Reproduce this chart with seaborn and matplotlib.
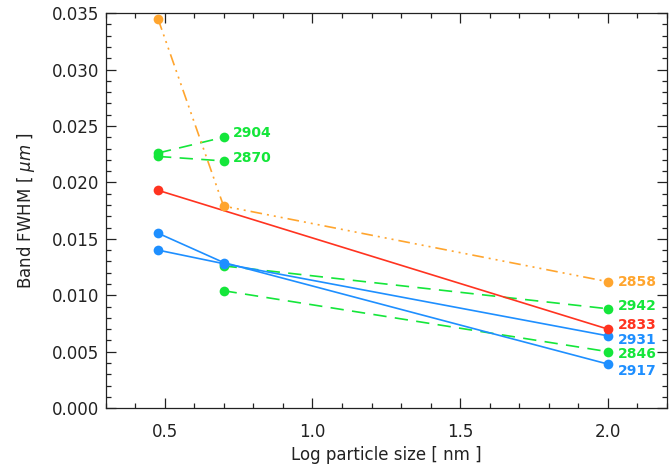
import numpy as np
import pandas as pd
import matplotlib
matplotlib.use("Agg")
import matplotlib.pyplot as plt
from matplotlib.ticker import MultipleLocator
import seaborn as sns

# ---- data ----
log_size = [0.477, 0.699, 2.0]
band_names = ["2858", "2904", "2870", "2833", "2917", "2931", "2942", "2846"]
x_2858 = [0.477, 0.699, 2.0]; y_2858 = [0.0345, 0.0179, 0.0112]
x_2904 = [0.477, 0.699];      y_2904 = [0.0226, 0.0240]
x_2870 = [0.477, 0.699];      y_2870 = [0.0223, 0.0219]
x_2833 = [0.477, 2.0];        y_2833 = [0.0193, 0.0070]
x_2917 = [0.477, 0.699, 2.0]; y_2917 = [0.0155, 0.0129, 0.0039]
x_2931 = [0.477, 0.699, 2.0]; y_2931 = [0.0140, 0.0128, 0.0064]
x_2942 = [0.699, 2.0];        y_2942 = [0.0126, 0.0088]
x_2846 = [0.699, 2.0];        y_2846 = [0.0104, 0.0050]

series = {
    "2858": (x_2858, y_2858), "2904": (x_2904, y_2904), "2870": (x_2870, y_2870),
    "2833": (x_2833, y_2833), "2917": (x_2917, y_2917), "2931": (x_2931, y_2931),
    "2942": (x_2942, y_2942), "2846": (x_2846, y_2846),
}
rows = []
for name, (xs, ys) in series.items():
    for i, (xv, yv) in enumerate(zip(xs, ys)):
        rows.append({"band": name, "order": i, "x": xv, "y": yv})
df = pd.DataFrame(rows)

# ---- style ----
ORANGE = "#ffa52e"
GREEN = "#14e63a"
RED = "#ff3320"
BLUE = "#1e8fff"
dashdot3 = (0, (7, 3, 1.2, 3, 1.2, 3, 1.2, 3))
dashed = (0, (8, 5))
styles = {
    "2858": (ORANGE, dashdot3),
    "2904": (GREEN, dashed), "2870": (GREEN, dashed),
    "2833": (RED, "-"),
    "2917": (BLUE, "-"), "2931": (BLUE, "-"),
    "2942": (GREEN, dashed), "2846": (GREEN, dashed),
}
# label offsets in points (dx, dy)
label_off = {
    "2858": (7, 0), "2904": (7, 3), "2870": (7, 2), "2833": (7, 3),
    "2917": (7, -5), "2931": (7, -3), "2942": (7, 2), "2846": (7, -2),
}

sns.set_style("ticks")
plt.rcParams["font.family"] = ["DejaVu Sans"]
plt.rcParams["mathtext.fontset"] = "dejavusans"

fig = plt.figure(figsize=(6.69, 4.68), dpi=100)
ax = fig.add_axes([0.158, 0.128, 0.839, 0.844])

draw_order = ["2942", "2846", "2931", "2917", "2833", "2870", "2904", "2858"]
for name in draw_order:
    color, ls = styles[name]
    sub = df[df["band"] == name]
    sns.lineplot(data=sub, x="x", y="y", ax=ax, color=color, linestyle=ls,
                 linewidth=1.2, marker="o", markersize=7, markeredgewidth=0,
                 markerfacecolor=color, sort=False, estimator=None, legend=False)

for name in band_names:
    xs, ys = series[name]
    color, _ = styles[name]
    dx, dy = label_off[name]
    ax.annotate(name, (xs[-1], ys[-1]), xytext=(dx, dy), textcoords="offset points",
                color=color, fontsize=10, fontweight="bold", va="center", ha="left")

ax.set_xlim(0.3, 2.2)
ax.set_ylim(0.0, 0.035)
ax.xaxis.set_major_locator(MultipleLocator(0.5))
ax.xaxis.set_minor_locator(MultipleLocator(0.1))
ax.yaxis.set_major_locator(MultipleLocator(0.005))
ax.yaxis.set_minor_locator(MultipleLocator(0.001))
ax.xaxis.set_major_formatter(matplotlib.ticker.FormatStrFormatter("%.1f"))
ax.yaxis.set_major_formatter(matplotlib.ticker.FormatStrFormatter("%.3f"))
ax.tick_params(which="both", direction="in", top=True, right=True,
               labelsize=12, colors="#222222", width=0.9)
ax.tick_params(axis="x", which="major", pad=11)
ax.tick_params(axis="y", which="major", pad=5)
ax.tick_params(which="major", length=7)
ax.tick_params(which="minor", length=3.5)
for sp in ax.spines.values():
    sp.set_visible(True)
    sp.set_linewidth(0.9)
    sp.set_color("#222222")

ax.set_xlabel("Log particle size [ nm ]", fontsize=12, color="#222222", labelpad=3)
ax.set_ylabel(r"Band FWHM [ $\mathit{\mu m}$ ]", fontsize=12, color="#222222", labelpad=10)

fig.savefig("out.png", dpi=100)
